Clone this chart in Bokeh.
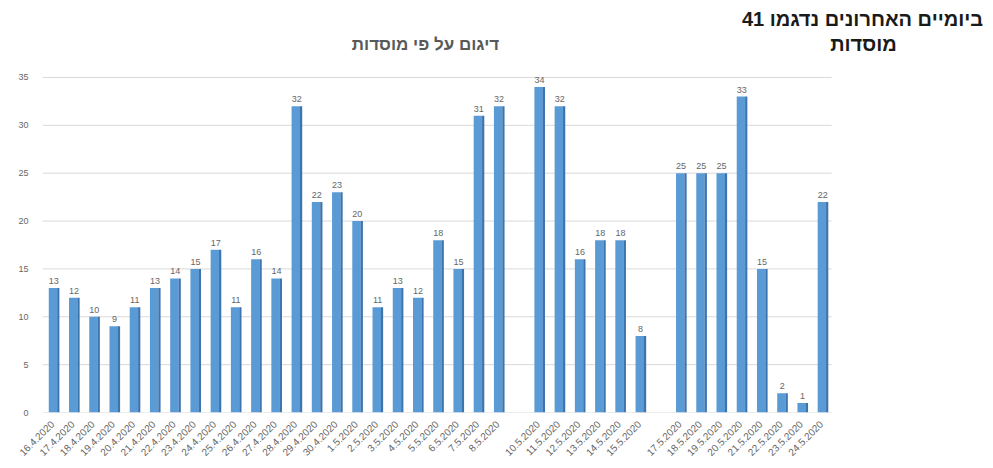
from bokeh.plotting import figure
from bokeh.models import ColumnDataSource, Label, FactorRange, Range1d, FixedTicker
from bokeh.core.properties import value
from bokeh.transform import dodge
from bokeh.embed import file_html
from bokeh.resources import INLINE
from math import pi

# ---- data ----
dates = ["16.4.2020", "17.4.2020", "18.4.2020", "19.4.2020", "20.4.2020", "21.4.2020",
         "22.4.2020", "23.4.2020", "24.4.2020", "25.4.2020", "26.4.2020", "27.4.2020",
         "28.4.2020", "29.4.2020", "30.4.2020", "1.5.2020", "2.5.2020", "3.5.2020",
         "4.5.2020", "5.5.2020", "6.5.2020", "7.5.2020", "8.5.2020",
         "10.5.2020", "11.5.2020", "12.5.2020", "13.5.2020", "14.5.2020", "15.5.2020",
         "17.5.2020", "18.5.2020", "19.5.2020", "20.5.2020", "21.5.2020", "22.5.2020",
         "23.5.2020", "24.5.2020"]
counts = [13, 12, 10, 9, 11, 13, 14, 15, 17, 11, 16, 14, 32, 22, 23,
          20, 11, 13, 12, 18, 15, 31, 32,
          34, 32, 16, 18, 18, 8,
          25, 25, 25, 33, 15, 2, 1, 22]
gap_after = ["8.5.2020", "15.5.2020"]   # an empty, unlabeled slot follows each
y_ticks = [0, 5, 10, 15, 20, 25, 30, 35]

title_text = "דיגום על פי מוסדות"
note_line1 = "ביומיים האחרונים נדגמו 41"
note_line2 = "מוסדות"

# ---- category axis: dates, blank gap slots, blank margin slots on the right ----
factors = []
n_blank = 0
for d in dates:
    factors.append(d)
    if d in gap_after:
        n_blank += 1
        factors.append(" " * n_blank)
n_chart_slots = len(factors)
for _ in range(8):
    n_blank += 1
    factors.append(" " * n_blank)

src = ColumnDataSource(dict(date=dates, count=counts, lab=[str(c) for c in counts]))

FONT = "Liberation Sans"
GRAY = "#595959"

W, H = 993, 464
p = figure(width=W, height=H, x_range=FactorRange(*factors, range_padding=0),
           y_range=Range1d(0, 43.04), output_backend="svg", toolbar_location=None,
           min_border_left=42, min_border_right=0, min_border_top=0,
           min_border_bottom=40)
p.outline_line_color = None

# gridlines (only across the chart's own plot area)
p.segment(x0=0, x1=n_chart_slots, y0=y_ticks, y1=y_ticks,
          line_color="#d9d9d9", line_width=1)

# bars: front face + darker side for a 3D look
p.vbar(x=dodge("date", 0.02, range=p.x_range), top="count", width=0.42,
       bottom=0, source=src, fill_color="#5b9bd5", line_color=None)
p.vbar(x=dodge("date", 0.28, range=p.x_range), top="count", width=0.11,
       bottom=0, source=src, fill_color="#3d74ad", line_color=None)

p.text(x=dodge("date", 0.06, range=p.x_range), y="count", text="lab", source=src,
       text_align="center", text_baseline="bottom", y_offset=-4,
       text_font_size="9px", text_color="#666666", text_font=value(FONT))

# axes
p.yaxis.ticker = FixedTicker(ticks=y_ticks)
p.yaxis.axis_line_color = None
p.yaxis.major_tick_line_color = None
p.yaxis.major_tick_out = 0
p.yaxis.major_tick_in = 0
p.yaxis.minor_tick_line_color = None
p.yaxis.major_label_text_font_size = "9px"
p.yaxis.major_label_text_color = "#666666"
p.yaxis.major_label_text_font = FONT
p.yaxis.major_label_standoff = 14

p.xaxis.axis_line_color = None
p.xaxis.major_tick_line_color = None
p.xaxis.major_tick_out = 0
p.xaxis.major_tick_in = 0
p.xaxis.major_label_orientation = pi / 4
p.xaxis.major_label_text_font_size = "10px"
p.xaxis.major_label_text_color = "#666666"
p.xaxis.major_label_text_font = FONT
p.xaxis.major_label_standoff = 10

p.xgrid.grid_line_color = None
p.ygrid.grid_line_color = None

# titles (screen units relative to the plot frame, y measured upward)
p.add_layout(Label(x=383, y=368, x_units="screen", y_units="screen", text=title_text,
                   text_align="center", text_baseline="middle", text_font_size="17px",
                   text_font_style="bold", text_color=GRAY, text_font=FONT))
p.add_layout(Label(x=820, y=394, x_units="screen", y_units="screen", text=note_line1,
                   text_align="center", text_baseline="middle", text_font_size="20px",
                   text_font_style="bold", text_color="#1a1a1a", text_font=FONT))
p.add_layout(Label(x=821, y=369, x_units="screen", y_units="screen", text=note_line2,
                   text_align="center", text_baseline="middle", text_font_size="20px",
                   text_font_style="bold", text_color="#1a1a1a", text_font=FONT))

open("out.html", "w").write(file_html(p, INLINE))
